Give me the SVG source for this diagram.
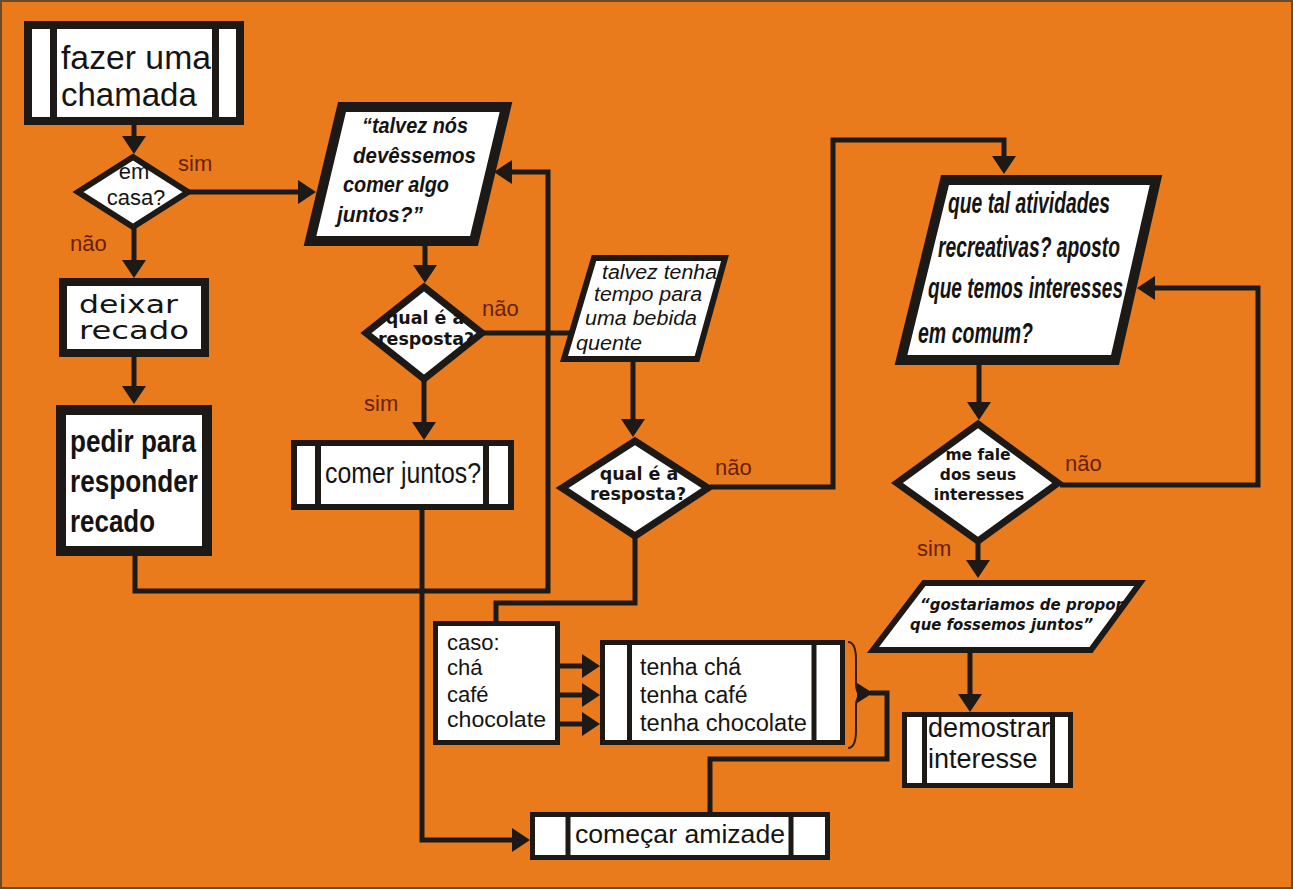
<svg xmlns="http://www.w3.org/2000/svg" width="1293" height="889" viewBox="0 0 1293 889">
<style>
.box{fill:#fff;stroke:#1c1917;}
.bar{stroke:#1c1917;fill:none;}
.ln{fill:none;stroke:#1c1917;stroke-width:5;stroke-linejoin:miter;}
.t{font-family:"Liberation Sans",Arial,sans-serif;fill:#161412;}
.dv{font-family:"DejaVu Sans",Verdana,sans-serif;fill:#161412;}
.lbl{font-family:"Liberation Sans",Arial,sans-serif;font-size:22px;fill:#6a1f10;}
.bi{font-weight:bold;font-style:italic;}
</style>
<defs>
<marker id="ah" viewBox="0 0 18 24" refX="12" refY="12" markerWidth="18" markerHeight="24" markerUnits="userSpaceOnUse" orient="auto">
<path d="M0,0 L18,12 L0,24 z" fill="#1c1917"/>
</marker>
</defs>
<rect x="0" y="0" width="1293" height="889" fill="#E97B1D"/>
<rect x="1" y="1" width="1291" height="887" fill="none" stroke="#6b4a2a" stroke-width="2"/>

<g id="connectors">
<path class="ln" d="M134,125 L134,148" marker-end="url(#ah)"/>
<path class="ln" d="M134,228 L134,272" marker-end="url(#ah)"/>
<path class="ln" d="M189,192 L310,192" marker-end="url(#ah)"/>
<path class="ln" d="M134,357 L134,398" marker-end="url(#ah)"/>
<path class="ln" d="M135,554 L135,591 L548,591 L548,172 L500,172" marker-end="url(#ah)"/>
<path class="ln" d="M425,244 L425,277" marker-end="url(#ah)"/>
<path class="ln" d="M424,381 L424,434" marker-end="url(#ah)"/>
<path class="ln" d="M484,333 L570,333"/>
<path class="ln" d="M633,360 L633,431" marker-end="url(#ah)"/>
<path class="ln" d="M710,487 L833,487 L833,140 L1004,140 L1004,168" marker-end="url(#ah)"/>
<path class="ln" d="M635,538 L635,603 L496,603 L496,622"/>
<path class="ln" d="M422,508 L422,840 L524,840" marker-end="url(#ah)"/>
<path class="ln" d="M558,666 L594,666" marker-end="url(#ah)"/>
<path class="ln" d="M558,695 L594,695" marker-end="url(#ah)"/>
<path class="ln" d="M558,724 L594,724" marker-end="url(#ah)"/>
<path d="M848,642 Q856,642 856,660 L856,684 Q856,693 861,695 Q856,697 856,706 L856,730 Q856,748 848,748" fill="none" stroke="#3a1a0c" stroke-width="2"/>
<polygon points="857,683 873,693 857,703" fill="#1c1917"/>
<path class="ln" d="M870,693 L887,693 L887,759 L710,759 L710,814"/>
<path class="ln" d="M979,363 L979,414" marker-end="url(#ah)"/>
<path class="ln" d="M1060,485 L1258,485 L1258,288 L1143,288" marker-end="url(#ah)"/>
<path class="ln" d="M978,543 L978,572" marker-end="url(#ah)"/>
<path class="ln" d="M970,651 L970,706" marker-end="url(#ah)"/>
</g>

<g id="fazer">
<rect class="box" x="28" y="25" width="212" height="96" stroke-width="8"/>
<line class="bar" x1="53.5" y1="25" x2="53.5" y2="121" stroke-width="7"/>
<line class="bar" x1="215.5" y1="25" x2="215.5" y2="121" stroke-width="7"/>
<text class="t" x="61" y="69" font-size="33" textLength="150" lengthAdjust="spacingAndGlyphs">fazer uma</text>
<text class="t" x="61" y="106" font-size="33">chamada</text>
</g>

<g id="emcasa">
<polygon class="box" points="133,157 188,192 133,227 78,192" stroke-width="6"/>
<text class="t" x="134" y="179" font-size="22" text-anchor="middle">em</text>
<text class="t" x="136" y="205" font-size="22" text-anchor="middle">casa?</text>
</g>

<g id="deixar">
<rect class="box" x="63" y="282" width="142" height="71" stroke-width="8"/>
<text class="dv" x="79" y="313" font-size="24" textLength="99" lengthAdjust="spacingAndGlyphs">deixar</text>
<text class="dv" x="79" y="339" font-size="24" textLength="110" lengthAdjust="spacingAndGlyphs">recado</text>
</g>

<g id="pedir">
<rect class="box" x="61" y="410" width="146" height="141" stroke-width="10"/>
<text class="t" x="70" y="452" font-size="31" font-weight="bold" textLength="126" lengthAdjust="spacingAndGlyphs">pedir para</text>
<text class="t" x="70" y="492" font-size="31" font-weight="bold" textLength="128" lengthAdjust="spacingAndGlyphs">responder</text>
<text class="t" x="70" y="532" font-size="31" font-weight="bold" textLength="85" lengthAdjust="spacingAndGlyphs">recado</text>
</g>

<g id="talveznos">
<polygon class="box" points="342,107 506,107 474,241 310,241" stroke-width="10"/>
<text class="t bi" x="362" y="133" font-size="22" textLength="106" lengthAdjust="spacingAndGlyphs">“talvez nós</text>
<text class="t bi" x="353" y="163" font-size="22" textLength="123" lengthAdjust="spacingAndGlyphs">devêssemos</text>
<text class="t bi" x="343" y="192" font-size="22" textLength="106" lengthAdjust="spacingAndGlyphs">comer algo</text>
<text class="t bi" x="337" y="222" font-size="22" textLength="86" lengthAdjust="spacingAndGlyphs">juntos?”</text>
</g>

<g id="qual1">
<polygon class="box" points="424,287 482,333 424,379 366,333" stroke-width="7"/>
<text class="dv" x="425" y="324" font-size="17.5" font-weight="bold" text-anchor="middle">qual é a</text>
<text class="dv" x="426" y="345" font-size="17.5" font-weight="bold" text-anchor="middle">resposta?</text>
</g>

<g id="comer">
<rect class="box" x="294" y="443" width="217" height="64" stroke-width="6"/>
<line class="bar" x1="318" y1="443" x2="318" y2="507" stroke-width="6"/>
<line class="bar" x1="486" y1="443" x2="486" y2="507" stroke-width="6"/>
<text class="t" x="325" y="483" font-size="30" textLength="156" lengthAdjust="spacingAndGlyphs">comer juntos?</text>
</g>

<g id="bebida">
<polygon class="box" points="594,258 725,258 697,359 564,359" stroke-width="6"/>
<text class="t" x="602" y="279" font-size="20" font-style="italic" textLength="115" lengthAdjust="spacingAndGlyphs">talvez tenha</text>
<text class="t" x="594" y="301" font-size="20" font-style="italic" textLength="108" lengthAdjust="spacingAndGlyphs">tempo para</text>
<text class="t" x="585" y="325" font-size="20" font-style="italic" textLength="112" lengthAdjust="spacingAndGlyphs">uma bebida</text>
<text class="t" x="576" y="350" font-size="20" font-style="italic" textLength="66" lengthAdjust="spacingAndGlyphs">quente</text>
</g>

<g id="qual2">
<polygon class="box" points="635,441 708,488 635,536 562,488" stroke-width="7"/>
<text class="dv" x="639" y="480" font-size="17.5" font-weight="bold" text-anchor="middle">qual é a</text>
<text class="dv" x="638" y="500" font-size="17.5" font-weight="bold" text-anchor="middle">resposta?</text>
</g>

<g id="caso">
<rect class="box" x="435.5" y="623.5" width="122" height="119" stroke-width="5"/>
<text class="t" x="447" y="650" font-size="22">caso:</text>
<text class="t" x="447" y="675" font-size="22">chá</text>
<text class="t" x="447" y="702" font-size="22">café</text>
<text class="t" x="447" y="727" font-size="22" textLength="99" lengthAdjust="spacingAndGlyphs">chocolate</text>
</g>

<g id="tenha">
<rect class="box" x="602.5" y="642.5" width="240" height="100" stroke-width="5"/>
<line class="bar" x1="629.5" y1="642.5" x2="629.5" y2="742.5" stroke-width="5"/>
<line class="bar" x1="814" y1="642.5" x2="814" y2="742.5" stroke-width="5"/>
<text class="t" x="640" y="675" font-size="23">tenha chá</text>
<text class="t" x="640" y="703" font-size="23">tenha café</text>
<text class="t" x="640" y="731" font-size="23" textLength="167" lengthAdjust="spacingAndGlyphs">tenha chocolate</text>
</g>

<g id="comecar">
<rect class="box" x="532.5" y="814.5" width="295" height="43" stroke-width="5"/>
<line class="bar" x1="568" y1="814.5" x2="568" y2="857.5" stroke-width="5"/>
<line class="bar" x1="791" y1="814.5" x2="791" y2="857.5" stroke-width="5"/>
<text class="t" x="575" y="843" font-size="26" textLength="210" lengthAdjust="spacingAndGlyphs">começar amizade</text>
</g>

<g id="atividades">
<polygon class="box" points="945,180 1156,180 1115,360 901,360" stroke-width="10"/>
<text class="t bi" x="948" y="213" font-size="30" textLength="162" lengthAdjust="spacingAndGlyphs">que tal atividades</text>
<text class="t bi" x="938" y="257" font-size="30" textLength="182" lengthAdjust="spacingAndGlyphs">recreativas? aposto</text>
<text class="t bi" x="928" y="298" font-size="30" textLength="195" lengthAdjust="spacingAndGlyphs">que temos interesses</text>
<text class="t bi" x="918" y="343" font-size="30" textLength="115" lengthAdjust="spacingAndGlyphs">em comum?</text>
</g>

<g id="mefale">
<polygon class="box" points="978,424 1058,483 978,541 897,483" stroke-width="7"/>
<text class="dv" x="978" y="460" font-size="15.5" font-weight="bold" text-anchor="middle">me fale</text>
<text class="dv" x="978" y="480" font-size="15.5" font-weight="bold" text-anchor="middle">dos seus</text>
<text class="dv" x="979" y="500" font-size="15.5" font-weight="bold" text-anchor="middle">interesses</text>
</g>

<g id="propor">
<polygon class="box" points="924,583 1140,583 1091,650 873,650" stroke-width="6"/>
<text class="dv bi" x="920" y="610" font-size="16" textLength="203" lengthAdjust="spacingAndGlyphs">“gostariamos de propor</text>
<text class="dv bi" x="910" y="630" font-size="16" textLength="183" lengthAdjust="spacingAndGlyphs">que fossemos juntos”</text>
</g>

<g id="demostrar">
<rect class="box" x="904.5" y="714.5" width="166" height="71" stroke-width="5"/>
<line class="bar" x1="924.5" y1="714.5" x2="924.5" y2="785.5" stroke-width="5"/>
<line class="bar" x1="1052.5" y1="714.5" x2="1052.5" y2="785.5" stroke-width="5"/>
<text class="t" x="928" y="737" font-size="27" textLength="122" lengthAdjust="spacingAndGlyphs">demostrar</text>
<text class="t" x="928" y="768" font-size="27">interesse</text>
</g>

<g id="labels">
<text class="lbl" x="178" y="171">sim</text>
<text class="lbl" x="70" y="251">não</text>
<text class="lbl" x="482" y="316">não</text>
<text class="lbl" x="364" y="411">sim</text>
<text class="lbl" x="715" y="475">não</text>
<text class="lbl" x="1065" y="471">não</text>
<text class="lbl" x="917" y="556">sim</text>
</g>
</svg>
